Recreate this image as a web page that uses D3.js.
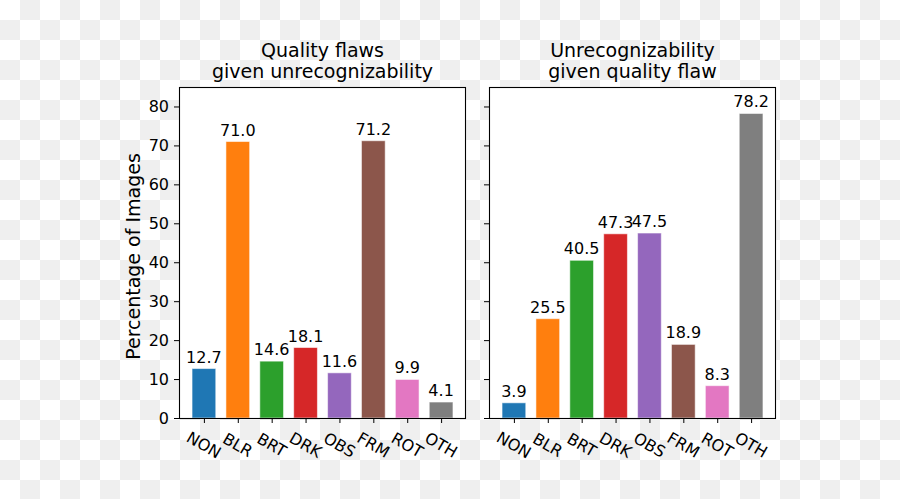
<!DOCTYPE html>
<html>
<head>
<meta charset="utf-8">
<script src="https://cdn.jsdelivr.net/npm/d3@7"></script>
<style>
  html, body { margin: 0; padding: 0; background: #ffffff; }
  svg { display: block; }
  text { font-family: "DejaVu Sans", sans-serif; fill: #000; }
</style>
</head>
<body>
<svg id="chart" width="900" height="499"></svg>
<script>
// ---- data ----
const categories = ["NON", "BLR", "BRT", "DRK", "OBS", "FRM", "ROT", "OTH"];
const flawsGivenUnrec = [12.7, 71.0, 14.6, 18.1, 11.6, 71.2, 9.9, 4.1];
const unrecGivenFlaw = [3.9, 25.5, 40.5, 47.3, 47.5, 18.9, 8.3, 78.2];
const yTicks = [0, 10, 20, 30, 40, 50, 60, 70, 80];
const titles = [
  ["Quality flaws", "given unrecognizability"],
  ["Unrecognizability", "given quality flaw"]
];
const yLabel = "Percentage of Images";
const colors = ["#1f77b4", "#ff7f0e", "#2ca02c", "#d62728", "#9467bd", "#8c564b", "#e377c2", "#7f7f7f"];

(function () {
const svg = d3.select("#chart");
const W = 900, H = 499;

// checkerboard background
const defs = svg.append("defs");
const pat = defs.append("pattern").attr("id", "checker")
  .attr("width", 40).attr("height", 40).attr("patternUnits", "userSpaceOnUse");
pat.append("rect").attr("width", 40).attr("height", 40).attr("fill", "#ffffff");
pat.append("rect").attr("x", 20).attr("y", 0).attr("width", 20).attr("height", 20).attr("fill", "#efefef");
pat.append("rect").attr("x", 0).attr("y", 20).attr("width", 20).attr("height", 20).attr("fill", "#efefef");
svg.append("rect").attr("width", W).attr("height", H).attr("fill", "url(#checker)");

const axTop = 87, axBottom = 418;
const panels = [
  { x0: 179, x1: 466, values: flawsGivenUnrec, title: titles[0], showLabels: true },
  { x0: 489, x1: 776, values: unrecGivenFlaw, title: titles[1], showLabels: false }
];

const y = d3.scaleLinear().domain([0, 85]).range([axBottom, axTop]);
const barW = 0.7;

panels.forEach(p => {
  const x = d3.scaleLinear().domain([-0.735, categories.length - 1 + 0.735]).range([p.x0, p.x1]);
  const g = svg.append("g");

  // axes background
  g.append("rect").attr("x", p.x0).attr("y", axTop)
    .attr("width", p.x1 - p.x0).attr("height", axBottom - axTop).attr("fill", "#ffffff");

  // bars
  g.selectAll("rect.bar").data(p.values).join("rect").attr("class", "bar")
    .attr("x", (d, i) => x(i - barW / 2))
    .attr("width", (d, i) => x(i + barW / 2) - x(i - barW / 2))
    .attr("y", d => y(d))
    .attr("height", d => y(0) - y(d))
    .attr("fill", (d, i) => colors[i])
    .attr("stroke", "#ffffff").attr("stroke-opacity", 0.55).attr("stroke-width", 1);

  // value labels
  g.selectAll("text.val").data(p.values).join("text").attr("class", "val")
    .attr("x", (d, i) => x(i))
    .attr("y", d => y(d) - 6)
    .attr("text-anchor", "middle")
    .attr("font-size", 16)
    .text(d => d3.format(".1f")(d));

  // y axis
  const yAxis = d3.axisLeft(y).tickValues(yTicks).tickSize(5).tickPadding(5)
    .tickFormat(p.showLabels ? d3.format("d") : () => "");
  const ya = g.append("g").attr("transform", `translate(${p.x0},0)`).call(yAxis);
  ya.select(".domain").remove();
  ya.selectAll("line").attr("stroke", "#000").attr("stroke-width", 1);
  ya.selectAll("text").attr("font-size", 16).attr("font-family", "DejaVu Sans").attr("fill", "#000");

  // x axis
  const xAxis = d3.axisBottom(x).tickValues(d3.range(categories.length)).tickSize(5)
    .tickFormat(() => "");
  const xa = g.append("g").attr("transform", `translate(0,${axBottom})`).call(xAxis);
  xa.select(".domain").remove();
  xa.selectAll("line").attr("stroke", "#000").attr("stroke-width", 1);

  // rotated category labels
  g.selectAll("text.cat").data(categories).join("text").attr("class", "cat")
    .attr("transform", (d, i) => `translate(${x(i)},${axBottom + 27}) rotate(30)`)
    .attr("text-anchor", "middle")
    .attr("dominant-baseline", "central")
    .attr("font-size", 16)
    .text(d => d);

  // frame
  g.append("rect").attr("x", p.x0 + 0.5).attr("y", axTop + 0.5)
    .attr("width", p.x1 - p.x0 - 1).attr("height", axBottom - axTop)
    .attr("fill", "none").attr("stroke", "#000").attr("stroke-width", 1.1);

  // title
  const cx = (p.x0 + p.x1) / 2;
  g.append("text").attr("x", cx).attr("y", 57).attr("text-anchor", "middle")
    .attr("font-size", 19).text(p.title[0]);
  g.append("text").attr("x", cx).attr("y", 78).attr("text-anchor", "middle")
    .attr("font-size", 19).text(p.title[1]);
});

// y label
svg.append("text")
  .attr("transform", `translate(139.5,${(axTop + axBottom) / 2 + 4}) rotate(-90)`)
  .attr("text-anchor", "middle")
  .attr("font-size", 19)
  .text(yLabel);
})();
</script>
</body>
</html>
